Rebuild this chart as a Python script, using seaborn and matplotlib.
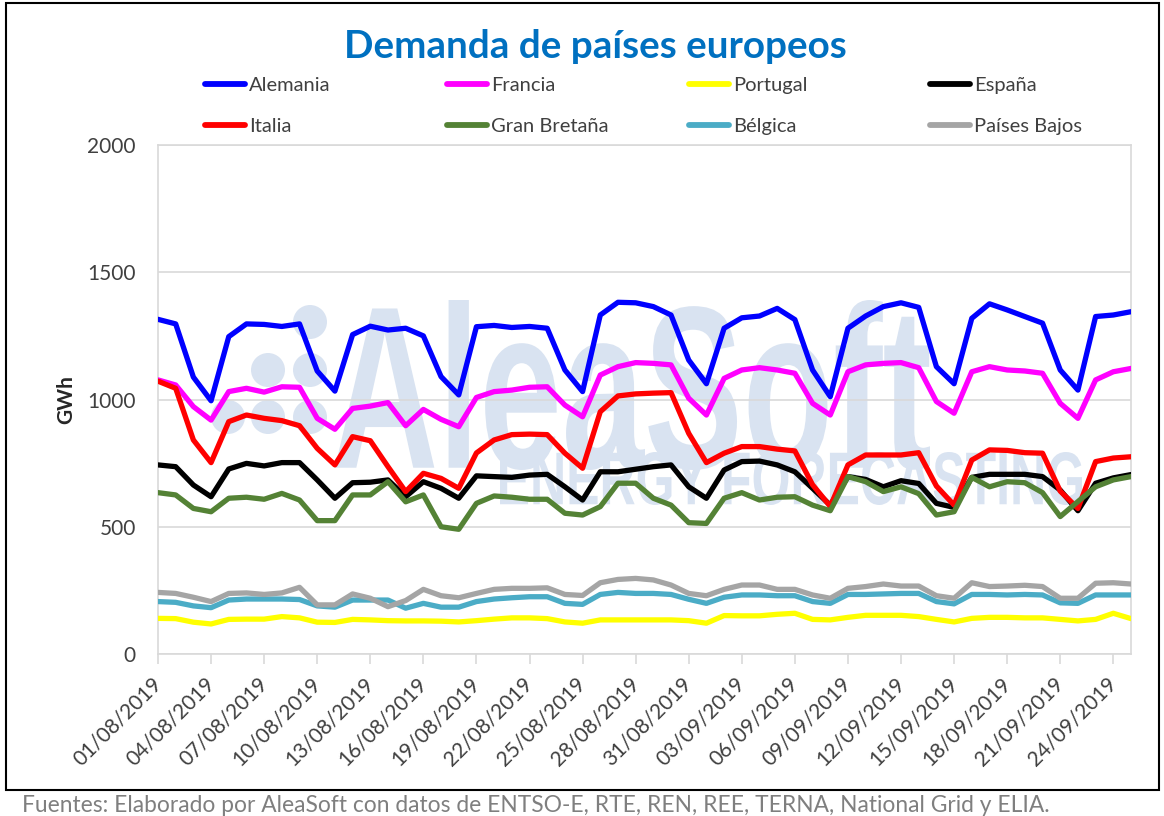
import numpy as np
import pandas as pd
import matplotlib
matplotlib.use("Agg")
import matplotlib.pyplot as plt
import matplotlib.dates as mdates
from matplotlib.lines import Line2D
from matplotlib.patches import Rectangle, Ellipse, PathPatch
from matplotlib.textpath import TextPath
from matplotlib.font_manager import FontProperties
from matplotlib.transforms import Affine2D, IdentityTransform, ScaledTranslation
import seaborn as sns

# ---------------- data ----------------
start_date = "2019-08-01"
n_days = 56

alemania = [1315, 1297, 1088, 995, 1247, 1297, 1295, 1287, 1297, 1112,
            1033, 1255, 1288, 1273, 1280, 1250, 1090, 1018, 1286, 1291,
            1283, 1287, 1280, 1116, 1031, 1332, 1382, 1380, 1365, 1332,
            1155, 1062, 1280, 1321, 1328, 1358, 1314, 1116, 1011, 1280,
            1328, 1365, 1380, 1362, 1129, 1062, 1319, 1376, 1352, 1326,
            1300, 1116, 1037, 1326, 1332, 1345]
francia = [1077, 1057, 972, 919, 1031, 1044, 1029, 1050, 1048, 926,
           883, 965, 974, 988, 897, 961, 922, 893, 1008, 1031,
           1037, 1048, 1050, 978, 932, 1096, 1129, 1145, 1142, 1136,
           1005, 939, 1083, 1116, 1125, 1116, 1103, 985, 939, 1109,
           1136, 1142, 1145, 1125, 992, 946, 1109, 1129, 1116, 1112,
           1103, 985, 926, 1077, 1109, 1122]
portugal = [140, 139, 125, 118, 136, 137, 137, 147, 142, 125,
            124, 136, 134, 131, 130, 130, 129, 126, 131, 137,
            142, 142, 139, 126, 121, 134, 134, 134, 134, 134,
            131, 121, 151, 150, 150, 156, 160, 136, 134, 144,
            152, 152, 152, 147, 136, 126, 140, 144, 144, 142,
            142, 136, 130, 136, 160, 139]
espana = [743, 736, 664, 618, 727, 749, 739, 752, 752, 684,
          612, 673, 675, 684, 618, 677, 651, 612, 700, 697,
          694, 703, 706, 657, 605, 716, 716, 726, 736, 743,
          657, 612, 723, 756, 758, 743, 716, 651, 585, 697,
          686, 657, 681, 670, 592, 576, 694, 706, 706, 706,
          697, 644, 563, 671, 692, 705]
italia = [1072, 1044, 841, 752, 913, 939, 926, 917, 897, 808,
          743, 854, 838, 736, 638, 710, 690, 651, 790, 841,
          862, 864, 862, 789, 730, 952, 1014, 1022, 1025, 1027,
          867, 752, 789, 815, 815, 805, 798, 665, 580, 743,
          782, 782, 782, 791, 660, 585, 762, 802, 800, 791,
          789, 640, 572, 756, 770, 775]
gran_bretana = [634, 625, 572, 559, 612, 616, 608, 631, 605, 524,
                524, 625, 625, 677, 598, 625, 500, 490, 592, 621,
                616, 608, 608, 553, 546, 579, 671, 671, 612, 585,
                516, 513, 612, 634, 605, 616, 618, 585, 563, 697,
                677, 638, 657, 630, 546, 559, 694, 657, 677, 673,
                634, 540, 599, 657, 684, 697]
belgica = [206, 203, 189, 182, 212, 216, 216, 216, 214, 189,
           184, 212, 212, 212, 180, 199, 184, 184, 206, 216,
           221, 225, 225, 199, 195, 234, 242, 238, 238, 234,
           215, 199, 223, 232, 232, 229, 229, 206, 199, 234,
           234, 236, 238, 238, 206, 197, 234, 234, 232, 234,
           232, 201, 199, 232, 232, 232]
paises_bajos = [242, 238, 223, 206, 238, 240, 234, 240, 262, 193,
                193, 236, 219, 186, 210, 254, 229, 221, 238, 254,
                258, 258, 260, 234, 230, 280, 293, 297, 291, 271,
                238, 229, 254, 271, 271, 254, 254, 232, 219, 258,
                265, 275, 267, 267, 229, 219, 280, 265, 267, 270,
                265, 219, 219, 278, 280, 275]

countries = ["Alemania", "Francia", "Portugal", "España",
             "Italia", "Gran Bretaña", "Bélgica", "Países Bajos"]
colors = ["#0000FF", "#FF00FF", "#FFFF00", "#000000",
          "#FF0000", "#548235", "#4BACC6", "#A5A5A5"]
series = [alemania, francia, portugal, espana,
          italia, gran_bretana, belgica, paises_bajos]

title = "Demanda de países europeos"
ylabel = "GWh"
footer = ("Fuentes: Elaborado por AleaSoft con datos de ENTSO-E, RTE, REN, REE, "
          "TERNA, National Grid y ELIA.")

dates = pd.date_range(start_date, periods=n_days, freq="D")
df = pd.concat([pd.DataFrame({"fecha": dates, "GWh": vals, "pais": name})
                for name, vals in zip(countries, series)], ignore_index=True)

# ---------------- figure ----------------
W, H = 1164, 816
sns.set_theme(style="white")
plt.rcParams["font.family"] = ["Lato", "DejaVu Sans"]
fig = plt.figure(figsize=(W / 100, H / 100), dpi=100)
fig.patch.set_facecolor("white")

L, R, T, B = 158, 1131, 145, 654
ax = fig.add_axes([L / W, 1 - B / H, (R - L) / W, (B - T) / H])
ax.set_facecolor("white")

# watermark (background)
wm_color = "#D9E3F1"
fp_b = FontProperties(family="Liberation Sans", weight="bold")
def add_stretched_text(s, x0, x1, ytop, ybot):
    tp = TextPath((0, 0), s, size=100, prop=fp_b)
    ext = tp.get_extents()
    sx = (x1 - x0) / ext.width
    sy = (ybot - ytop) / ext.height
    tr = (Affine2D().translate(-ext.x0, -ext.y0).scale(sx, sy)
          .translate(x0, H - ybot))
    p = PathPatch(tr.transform_path(tp), facecolor=wm_color, edgecolor="none",
                  transform=IdentityTransform(), zorder=0.5)
    ax.add_patch(p)

add_stretched_text("AleaSoft", 335, 930, 300, 470)
add_stretched_text("ENERGY FORECASTING", 500, 1082, 452, 505)
for (cx, cy) in [(310, 322), (268, 370), (310, 370), (228, 417), (268, 417), (310, 417)]:
    ax.add_patch(Ellipse((cx, H - cy), 34, 34, facecolor=wm_color,
                         edgecolor="none", transform=IdentityTransform(), zorder=0.5))

sns.lineplot(data=df, x="fecha", y="GWh", hue="pais", hue_order=countries,
             palette=colors, linewidth=3.8, legend=False, ax=ax, zorder=3)

ax.set_xlim(dates[0], dates[-1])
ax.set_ylim(0, 2000)
ax.set_yticks([0, 500, 1000, 1500, 2000])
ax.grid(axis="y", color="#D9D9D9", linewidth=1.2, zorder=0)
ax.grid(axis="x", visible=False)
for sp in ax.spines.values():
    sp.set_color("#D9D9D9")
    sp.set_linewidth(1.2)

xt = pd.date_range(start_date, dates[-1], freq="3D")
ax.set_xticks(xt)
ax.xaxis.set_major_formatter(mdates.DateFormatter("%d/%m/%Y"))
ax.tick_params(axis="x", which="major", length=7, width=1.2, color="#D9D9D9",
               direction="out", bottom=True, labelsize=15, labelcolor="#404040", pad=4)
ax.tick_params(axis="y", length=0, labelsize=15, labelcolor="#404040", pad=16)
shift = ScaledTranslation(-7 / 100, -4 / 100, fig.dpi_scale_trans)
for lab in ax.get_xticklabels():
    lab.set_rotation(45)
    lab.set_ha("right")
    lab.set_va("top")
    lab.set_rotation_mode("anchor")
    lab.set_transform(lab.get_transform() + shift)

ax.set_xlabel("")
ax.set_ylabel(ylabel, fontsize=15, fontweight="bold", color="#262626", labelpad=8)

# title
fig.text(595 / W, 1 - 46 / H, title, ha="center", va="center",
         fontsize=27.8, fontweight="bold", color="#0070C0")

# legend: four columns of two rows
col_x = [205, 447, 689, 930]
order = [(0, 4), (1, 5), (2, 6), (3, 7)]
for cx, (a, b) in zip(col_x, order):
    handles = [Line2D([], [], color=colors[a], lw=4.2, solid_capstyle="round"),
               Line2D([], [], color=colors[b], lw=4.2, solid_capstyle="round")]
    leg = fig.legend(handles, [countries[a], countries[b]], loc="upper left",
                     bbox_to_anchor=(cx / W, 1 - 77 / H), frameon=False,
                     fontsize=14.5, handlelength=2.0, handletextpad=0.2,
                     borderpad=0, borderaxespad=0, labelspacing=1.2,
                     labelcolor="#404040")

# footer
fig.text(22 / W, 1 - 806 / H, footer, ha="left", va="center",
         fontsize=16.4, color="#7F7F7F")

# outer border
fig.add_artist(Rectangle((6 / W, 1 - 790 / H), (1159 - 6) / W, (790 - 3) / H,
                         transform=fig.transFigure, fill=False,
                         edgecolor="black", linewidth=1.5))

fig.savefig("out.png", dpi=100, facecolor="white")
